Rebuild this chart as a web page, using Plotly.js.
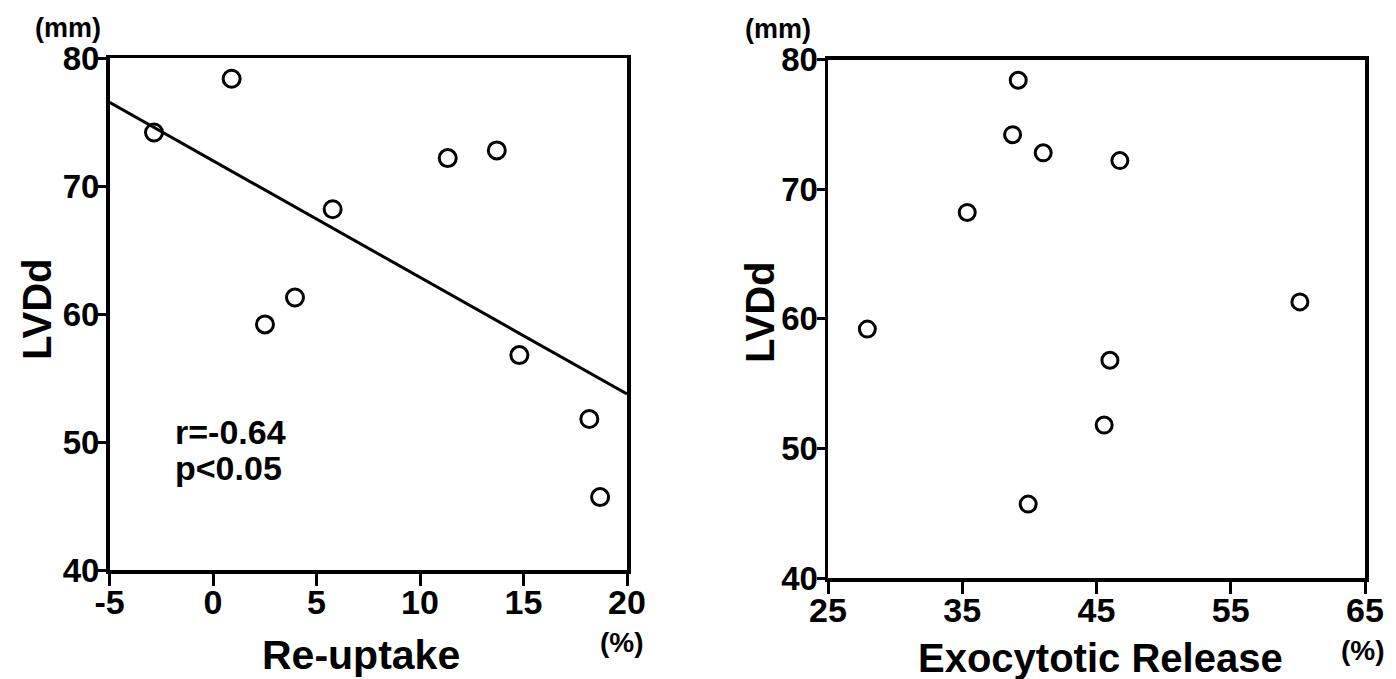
<!DOCTYPE html>
<html>
<head>
<meta charset="utf-8">
<script src="https://cdn.plot.ly/plotly-3.0.1.min.js"></script>
<style>
  html, body { margin: 0; padding: 0; background: #ffffff; }
  #chart { width: 1396px; height: 679px; }
</style>
</head>
<body>
<div id="chart"></div>
<script>
// Left ventricular end-diastolic dimension per patient (mm)
const lvdd = [78.4, 74.2, 68.2, 61.3, 59.2, 72.2, 72.8, 56.8, 51.8, 45.7];
// Re-uptake (%) for the same patients
const reuptake = [0.90, -2.85, 5.78, 3.96, 2.51, 11.34, 13.71, 14.80, 18.18, 18.70];
// Exocytotic release (%) for the same patients
const exocytotic = [39.17, 38.75, 35.37, 60.15, 27.93, 46.74, 41.03, 46.00, 45.57, 39.91];

const lvddTicks = [40, 50, 60, 70, 80];
const reuptakeTicks = [-5, 0, 5, 10, 15, 20];
const reuptakeTickText = ['-5', '0', '5', '10', '15', '20'];
const exoTicks = [25, 35, 45, 55, 65];
const reuptakeRange = [-5, 20];
const exoRange = [25, 65];
const lvddRange = [40, 80];

const statR = 'r=-0.64';
const statP = 'p<0.05';

// Least-squares regression of LVDd on re-uptake
function linearFit(xs, ys) {
  const n = xs.length;
  const mx = xs.reduce((a, b) => a + b, 0) / n;
  const my = ys.reduce((a, b) => a + b, 0) / n;
  let sxy = 0, sxx = 0;
  for (let i = 0; i < n; i++) {
    sxy += (xs[i] - mx) * (ys[i] - my);
    sxx += (xs[i] - mx) * (xs[i] - mx);
  }
  const slope = sxy / sxx;
  return { slope: slope, intercept: my - slope * mx };
}
const fit = linearFit(reuptake, lvdd);
const fitX = reuptakeRange.slice();
const fitY = fitX.map(x => fit.intercept + fit.slope * x);

const FONT = 'Liberation Sans, Arial, Helvetica, sans-serif';
const BLACK = '#000000';

const traces = [
  {
    x: fitX, y: fitY, xaxis: 'x', yaxis: 'y',
    type: 'scatter', mode: 'lines',
    line: { color: BLACK, width: 3 },
    hoverinfo: 'skip', showlegend: false
  },
  {
    x: reuptake, y: lvdd, xaxis: 'x', yaxis: 'y',
    type: 'scatter', mode: 'markers',
    marker: { symbol: 'circle-open', size: 17, color: BLACK, line: { width: 3, color: BLACK } },
    cliponaxis: false, showlegend: false
  },
  {
    x: exocytotic, y: lvdd, xaxis: 'x2', yaxis: 'y2',
    type: 'scatter', mode: 'markers',
    marker: { symbol: 'circle-open', size: 16, color: BLACK, line: { width: 3, color: BLACK } },
    cliponaxis: false, showlegend: false
  }
];

function axisBase(extra) {
  return Object.assign({
    showline: true, linecolor: BLACK, linewidth: 3.5, mirror: true,
    ticks: 'outside', ticklen: 8, tickwidth: 3, tickcolor: BLACK,
    showgrid: false, zeroline: false, fixedrange: true,
    tickmode: 'array',
    tickfont: { family: FONT, size: 33, color: BLACK, weight: 700 }
  }, extra);
}

const xTickFont = { family: FONT, size: 34, color: BLACK, weight: 700 };

const W = 1396, H = 679;
const px = v => v / W;
const py = v => 1 - v / H;

function label(text, x, y, size, extra) {
  return Object.assign({
    text: text, xref: 'paper', yref: 'paper', x: x, y: y,
    xanchor: 'center', yanchor: 'middle', showarrow: false,
    font: { family: FONT, size: size, color: BLACK, weight: 700 }
  }, extra || {});
}

const layout = {
  width: W, height: H,
  margin: { l: 0, r: 0, t: 0, b: 0 },
  paper_bgcolor: '#ffffff', plot_bgcolor: '#ffffff',
  showlegend: false,
  xaxis: axisBase({ domain: [px(109.5), px(627)], range: reuptakeRange, anchor: 'y',
    tickvals: reuptakeTicks, ticktext: reuptakeTickText,
    ticklen: 12, tickfont: xTickFont, ticklabelstandoff: -12 }),
  yaxis: axisBase({ domain: [py(570), py(58.3)], range: lvddRange, anchor: 'x',
    tickvals: lvddTicks, ticktext: lvddTicks.map(String), ticklabelstandoff: -8 }),
  xaxis2: axisBase({ domain: [px(828), px(1365)], range: exoRange, anchor: 'y2',
    tickvals: exoTicks, ticktext: exoTicks.map(String),
    ticklen: 12, tickfont: xTickFont, ticklabelstandoff: -12 }),
  yaxis2: axisBase({ domain: [py(578), py(59.5)], range: lvddRange, anchor: 'x2',
    tickvals: lvddTicks, ticktext: lvddTicks.map(String), ticklabelstandoff: -8 }),
  annotations: [
    label('(mm)', px(68), py(28), 27),
    label('LVDd', px(37), py(310), 40, { textangle: -90 }),
    label('Re-uptake', px(361), py(655), 41),
    label('(%)', px(622), py(642), 28),
    label('(mm)', px(778), py(29), 27),
    label('LVDd', px(760), py(313), 40, { textangle: -90 }),
    label('Exocytotic Release', px(1100), py(658), 40),
    label('(%)', px(1363), py(650), 28),
    {
      text: statR, xref: 'x', yref: 'y', x: -1.93, y: 50.8,
      xanchor: 'left', yanchor: 'middle', showarrow: false,
      font: { family: FONT, size: 34, color: BLACK, weight: 700 }
    },
    {
      text: statP, xref: 'x', yref: 'y', x: -1.93, y: 48.0,
      xanchor: 'left', yanchor: 'middle', showarrow: false,
      font: { family: FONT, size: 34, color: BLACK, weight: 700 }
    }
  ]
};

Plotly.newPlot('chart', traces, layout, { staticPlot: true, displayModeBar: false });
</script>
</body>
</html>
